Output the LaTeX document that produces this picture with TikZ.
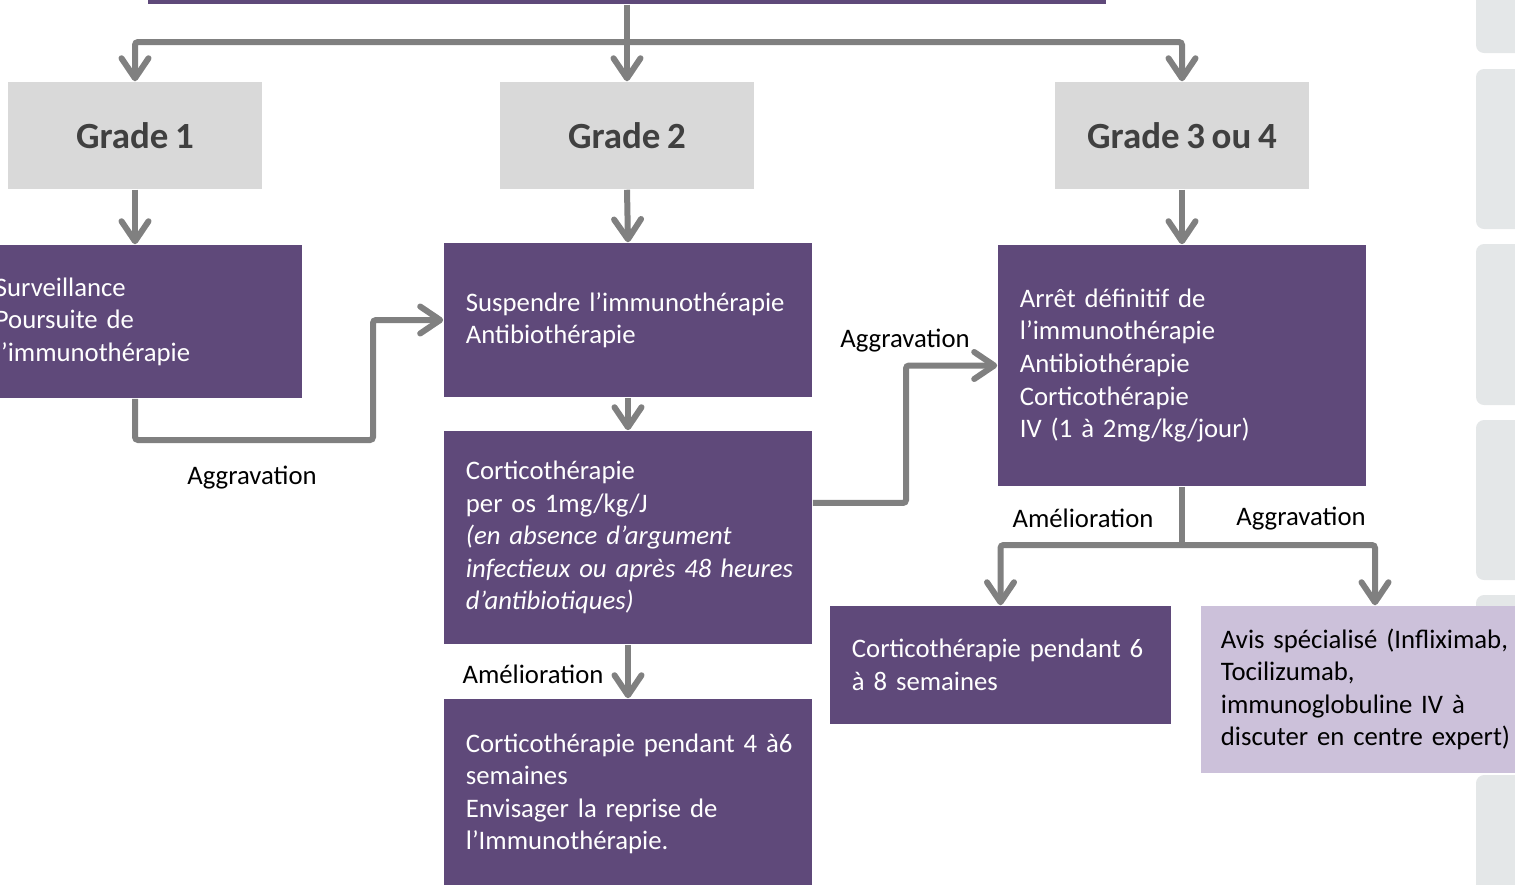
\documentclass[tikz,border=0pt]{standalone}
\usepackage{fontspec}
\setmainfont{Carlito}[WordSpace=0.8]
\usetikzlibrary{arrows.meta}

\definecolor{darkpurple}{HTML}{5F497A}
\definecolor{lilac}{HTML}{CCC1DA}
\definecolor{panelgrey}{HTML}{D9D9D9}
\definecolor{tabgrey}{HTML}{E4E7E8}
\definecolor{linkgrey}{HTML}{808080}
\definecolor{gradetext}{HTML}{404040}

\begin{document}
\begin{tikzpicture}[x=0.01cm,y=-0.01cm,
    txt/.style={font=\fontsize{7.6}{9.25}\selectfont},
    box/.style={txt, rectangle, fill=darkpurple, text=white, align=left,
        inner xsep=0.22cm, inner ysep=0pt, text width=3.24cm},
    grade/.style={rectangle, fill=panelgrey, text=gradetext, inner sep=0pt,
        minimum width=2.54cm, minimum height=1.07cm,
        font=\fontsize{10.5}{12}\selectfont\bfseries},
    lbl/.style={txt, text=black, inner sep=0pt},
    link/.style={draw=linkgrey, line width=0.06cm, rounded corners=0.03cm},
    flow/.style={link, -{Straight Barb[length=0.2cm,width=0.27cm,round]}}]

    % Fix the page to the reference frame
    \useasboundingbox (0,0) rectangle (1515,884);
    \clip (0,0) rectangle (1515,884);

    % Grey tabs along the right border
    \foreach \ya/\yb in {-20/53,69/229,244/405,420/580,595/758,775/940}
        \fill[tabgrey, rounded corners=0.08cm] (1476,\ya) rectangle (1545,\yb);

    % Title bar (cut at the top) and the three grades
    \node[fill=darkpurple, inner sep=0pt, minimum width=9.58cm, minimum height=0.44cm] (title) at (627,-18) {};
    \node[grade] (g1) at (135,135.5) {Grade 1};
    \node[grade] (g2) at (627,135.5) {Grade 2};
    \node[grade] (g3) at (1182,135.5) {Grade 3 ou 4};

    % Grade 1
    \node[box, text width=2.85cm, minimum height=1.53cm] (s1) at (137.5,321.5)
        {Surveillance\\Poursuite de\\l’immunothérapie};

    % Grade 2
    \node[box, minimum height=1.54cm] (s2) at (628,320)
        {\mbox{Suspendre l’immunothérapie}\\Antibiothérapie};
    \node[box, minimum height=2.13cm] (c2) at (628,537.5)
        {Corticothérapie\\per os 1mg/kg/J\\\textit{(en absence d’argument}\\
         \mbox{\textit{infectieux ou après 48 heures}}\\\textit{d’antibiotiques)}};
    \node[box, minimum height=1.90cm] (r2) at (628,794)
        {\mbox{Corticothérapie pendant 4 à6}\\semaines\\Envisager la reprise de\\l’Immunothérapie.};

    % Grade 3 ou 4
    \node[box, minimum height=2.41cm] (s3) at (1182,365.5)
        {Arrêt définitif de\\l’immunothérapie\\Antibiothérapie\\Corticothérapie\\IV (1 à 2mg/kg/jour)};
    \node[box, text width=2.97cm, minimum height=1.18cm] (i3) at (1000.5,665)
        {\mbox{Corticothérapie pendant 6}\\à 8 semaines};
    \node[box, fill=lilac, text=black, inner xsep=0.2cm, text width=3.08cm,
        minimum height=1.67cm] (e3) at (1375,689.5)
        {\mbox{Avis spécialisé (Infliximab,}\\Tocilizumab,\\immunoglobuline IV à\\\mbox{discuter en centre expert)}};

    % Labels on the links
    \node[lbl] (agg1) at (252,478) {Aggravation};
    \node[lbl] (agg2) at (905,341) {Aggravation};
    \node[lbl] (ame3) at (1083,518) {Amélioration};
    \node[lbl] (agg3) at (1301,519) {Aggravation};
    \node[lbl] (ame2) at (533,674) {Amélioration};

    % Branch points
    \coordinate (hub) at (627,42);
    \coordinate (k1) at (373,440);
    \coordinate (k2) at (906,440);
    \coordinate (f3) at (1182,545);

    % Links from the title to the grades
    \draw[link] (title.south) -- (hub);
    \draw[flow] (hub) -| (g1.north);
    \draw[flow] (hub) -- (g2.north);
    \draw[flow] (hub) -| (g3.north);

    % Links down each column
    \draw[flow] (g1.south) -- (g1.south |- s1.north);
    \draw[flow] (g2.south) -- (s2.north);
    \draw[flow] (g3.south) -- (s3.north);
    \draw[flow] (s2.south) -- (c2.north);
    \draw[flow] (c2.south) -- (r2.north);

    % Aggravation links
    \draw[flow] (g1.south |- s1.south) |- (k1) |- (s2.west);
    \draw[flow] ([yshift=3.45mm]c2.east) -| (k2) |- (s3.west);

    % Fork under grade 3 ou 4
    \draw[link] (s3.south) -- (f3);
    \draw[flow] (f3) -| (i3.north);
    \draw[flow] (f3) -| (e3.north);

\end{tikzpicture}
\end{document}
